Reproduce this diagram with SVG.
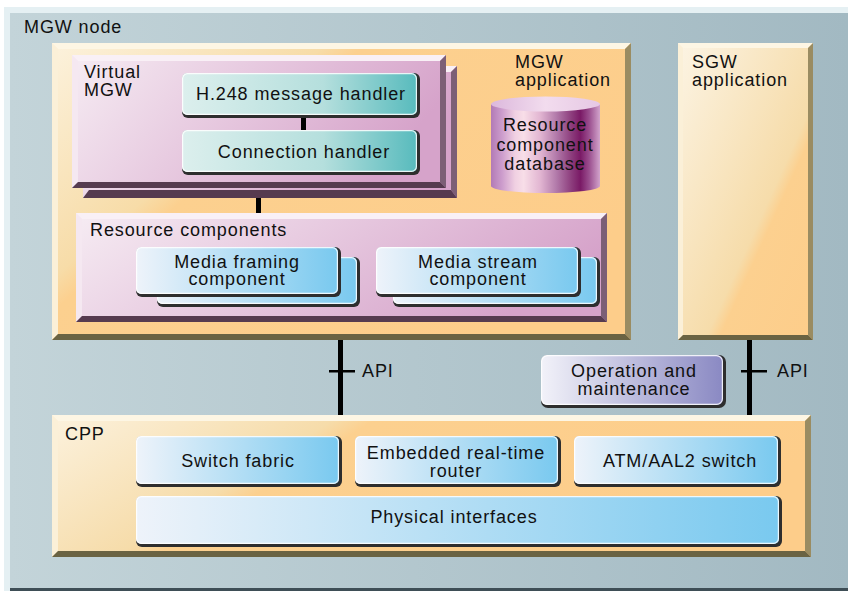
<svg xmlns="http://www.w3.org/2000/svg" width="848" height="591" viewBox="0 0 848 591">
<defs>
<linearGradient id="gBg" x1="0" y1="0" x2="1" y2="0"><stop offset="0" stop-color="#c3d4d9"/><stop offset="1" stop-color="#a2b9c2"/></linearGradient>
<linearGradient id="gOr" x1="0" y1="0" x2="1" y2="0.6"><stop offset="0" stop-color="#fcf2dd"/><stop offset="0.35" stop-color="#f7dca8"/><stop offset="0.4" stop-color="#fcd08f"/><stop offset="1" stop-color="#fdcd8a"/></linearGradient>
<linearGradient id="gOr2" x1="0" y1="0" x2="1" y2="1"><stop offset="0" stop-color="#fcf4e4"/><stop offset="0.6" stop-color="#f6dcaa"/><stop offset="0.65" stop-color="#fcd08f"/><stop offset="1" stop-color="#fdcd8a"/></linearGradient>
<linearGradient id="gOr3" x1="0" y1="0" x2="1" y2="0.3"><stop offset="0" stop-color="#fcf2de"/><stop offset="0.35" stop-color="#f6dcaa"/><stop offset="0.4" stop-color="#fcd08f"/><stop offset="1" stop-color="#fdcd8a"/></linearGradient>
<linearGradient id="gPk" x1="0" y1="0" x2="1" y2="0.3"><stop offset="0" stop-color="#f6ecf3"/><stop offset="1" stop-color="#d6a3ca"/></linearGradient>
<linearGradient id="gTeal" x1="0" y1="0" x2="1" y2="0"><stop offset="0" stop-color="#dcefed"/><stop offset="0.6" stop-color="#b5dfdd"/><stop offset="1" stop-color="#58bbbd"/></linearGradient>
<linearGradient id="gBlue" x1="0" y1="0" x2="1" y2="0"><stop offset="0" stop-color="#eef3fa"/><stop offset="1" stop-color="#79c9ef"/></linearGradient>
<linearGradient id="gOm" x1="0" y1="0" x2="1" y2="0"><stop offset="0" stop-color="#f2f2f9"/><stop offset="1" stop-color="#8a89c3"/></linearGradient>
<linearGradient id="gCyl" x1="0" y1="0" x2="1" y2="0"><stop offset="0" stop-color="#b27ab6"/><stop offset="0.1" stop-color="#cc9ccc"/><stop offset="0.22" stop-color="#f0d0e2"/><stop offset="0.3" stop-color="#f8dee8"/><stop offset="0.45" stop-color="#e2b6d2"/><stop offset="0.6" stop-color="#b27aaa"/><stop offset="0.74" stop-color="#8c3c7c"/><stop offset="0.82" stop-color="#7a1a66"/><stop offset="0.9" stop-color="#9a4e8e"/><stop offset="1" stop-color="#d2a4cc"/></linearGradient>
<linearGradient id="gCylTop" x1="0" y1="0" x2="1" y2="0"><stop offset="0" stop-color="#dcb8dc"/><stop offset="0.5" stop-color="#f2dcee"/><stop offset="1" stop-color="#e6c8e4"/></linearGradient>
</defs>
<style>
text{font-family:"Liberation Sans",Arial,Helvetica,sans-serif;font-size:18px;fill:#111;letter-spacing:0.9px}
.c{text-anchor:middle}
.sh{fill:#2e2e2e}
.hl{fill:none;stroke:#ffffff;stroke-opacity:0.85;stroke-width:1.2}
.conn{fill:#000}
.olt{fill:#fdf6e4}.oll{fill:#fbf0d8}.ord{fill:#9a8c62}.obt{fill:#6a6343}
.plt{fill:#f9f0f6}.pll{fill:#f5e8f1}.prd{fill:#7c5f76}.pbt{fill:#563b4f}
</style>
<rect width="848" height="591" fill="#ffffff"/>
<g id="mgw-node">
<rect x="4" y="7" width="844" height="584" fill="#e5f0f3"/>
<rect x="10" y="13" width="838" height="578" fill="url(#gBg)"/>
<rect x="10" y="588" width="838" height="3" fill="#3e4e56"/>
<text x="24" y="33">MGW node</text>
</g>
<g id="mgw-application">
<rect x="52" y="43" width="579" height="297" fill="url(#gOr)"/>
<polygon class="olt" points="52,43 631,43 625,49 58,49"/>
<polygon class="oll" points="52,43 58,49 58,334 52,340"/>
<polygon class="ord" points="631,43 631,340 625,334 625,49"/>
<polygon class="obt" points="52,340 631,340 625,334 58,334"/>
<text x="515" y="68">MGW</text>
<text x="515" y="86">application</text>
</g>
<g id="resource-component-database">
<rect x="491" y="104" width="109" height="82" fill="url(#gCyl)"/>
<ellipse cx="545.5" cy="186" rx="54.5" ry="7" fill="url(#gCyl)"/>
<ellipse cx="545.5" cy="104" rx="54.5" ry="7.5" fill="url(#gCylTop)"/>
<text class="c" x="545" y="131">Resource</text>
<text class="c" x="545" y="151">component</text>
<text class="c" x="545" y="170">database</text>
</g>
<g id="virtual-mgw">
<rect x="83" y="66" width="374" height="132" fill="url(#gPk)"/>
<polygon class="plt" points="83,66 457,66 451,72 89,72"/>
<polygon class="prd" points="457,66 457,198 451,190 451,72"/>
<polygon class="pbt" points="83,198 457,198 451,190 89,190"/>
<rect x="72" y="55" width="374" height="133" fill="url(#gPk)"/>
<polygon class="plt" points="72,55 446,55 440,61 78,61"/>
<polygon class="pll" points="72,55 78,61 78,182 72,188"/>
<polygon class="prd" points="446,55 446,188 440,182 440,61"/>
<polygon class="pbt" points="72,188 446,188 440,182 78,182"/>
<text x="84" y="78">Virtual</text>
<text x="84" y="96">MGW</text>
</g>
<g id="h248-message-handler">
<rect class="sh" x="182" y="73" width="238" height="45" rx="6"/>
<rect x="182" y="73" width="235" height="42" rx="5" fill="url(#gTeal)"/>
<rect class="hl" x="182.6" y="73.6" width="233.8" height="40.8" rx="5"/>
<text class="c" x="301" y="100">H.248 message handler</text>
</g>
<g id="connection-handler">
<rect class="sh" x="182" y="130" width="238" height="45" rx="6"/>
<rect x="182" y="130" width="235" height="42" rx="5" fill="url(#gTeal)"/>
<rect class="hl" x="182.6" y="130.6" width="233.8" height="40.8" rx="5"/>
<text class="c" x="304" y="158">Connection handler</text>
</g>
<g id="resource-components">
<rect x="76" y="213" width="531" height="109" fill="url(#gPk)"/>
<polygon class="plt" points="76,213 607,213 601,219 82,219"/>
<polygon class="pll" points="76,213 82,219 82,316 76,322"/>
<polygon class="prd" points="607,213 607,322 601,316 601,219"/>
<polygon class="pbt" points="76,322 607,322 601,316 82,316"/>
<text x="90" y="236">Resource components</text>
</g>
<g id="media-framing-component">
<rect class="sh" x="157" y="257" width="203" height="50" rx="6"/>
<rect x="157" y="257" width="200" height="47" rx="5" fill="url(#gBlue)"/>
<rect class="hl" x="157.6" y="257.6" width="198.8" height="45.8" rx="5"/>
<rect class="sh" x="136" y="247" width="205" height="50" rx="6"/>
<rect x="136" y="247" width="202" height="47" rx="5" fill="url(#gBlue)"/>
<rect class="hl" x="136.6" y="247.6" width="200.8" height="45.8" rx="5"/>
<text class="c" x="237" y="268">Media framing</text>
<text class="c" x="237" y="285">component</text>
</g>
<g id="media-stream-component">
<rect class="sh" x="393" y="257" width="207" height="50" rx="6"/>
<rect x="393" y="257" width="204" height="47" rx="5" fill="url(#gBlue)"/>
<rect class="hl" x="393.6" y="257.6" width="202.8" height="45.8" rx="5"/>
<rect class="sh" x="376" y="247" width="205" height="50" rx="6"/>
<rect x="376" y="247" width="202" height="47" rx="5" fill="url(#gBlue)"/>
<rect class="hl" x="376.6" y="247.6" width="200.8" height="45.8" rx="5"/>
<text class="c" x="478" y="268">Media stream</text>
<text class="c" x="478" y="285">component</text>
</g>
<g id="sgw-application">
<rect x="678" y="43" width="135" height="297" fill="url(#gOr2)"/>
<polygon class="olt" points="678,43 813,43 808,48 683,48"/>
<polygon class="oll" points="678,43 683,48 683,335 678,340"/>
<polygon class="ord" points="813,43 813,340 808,335 808,48"/>
<polygon class="obt" points="678,340 813,340 808,335 683,335"/>
<text x="692" y="68">SGW</text>
<text x="692" y="86">application</text>
</g>
<g id="operation-and-maintenance">
<rect class="sh" x="541" y="355" width="185" height="53" rx="7"/>
<rect x="541" y="355" width="182" height="50" rx="6" fill="url(#gOm)"/>
<rect class="hl" x="541.6" y="355.6" width="180.8" height="48.8" rx="6"/>
<text class="c" x="634" y="377">Operation and</text>
<text class="c" x="634" y="395">maintenance</text>
</g>
<g id="cpp">
<rect x="52" y="415" width="759" height="142" fill="url(#gOr3)"/>
<polygon class="olt" points="52,415 811,415 805,421 58,421"/>
<polygon class="oll" points="52,415 58,421 58,551 52,557"/>
<polygon class="ord" points="811,415 811,557 805,551 805,421"/>
<polygon class="obt" points="52,557 811,557 805,551 58,551"/>
<text x="65" y="440">CPP</text>
</g>
<g id="switch-fabric">
<rect class="sh" x="136" y="436" width="206" height="51" rx="6"/>
<rect x="136" y="436" width="203" height="48" rx="5" fill="url(#gBlue)"/>
<rect class="hl" x="136.6" y="436.6" width="201.8" height="46.8" rx="5"/>
<text class="c" x="238" y="467">Switch fabric</text>
</g>
<g id="embedded-real-time-router">
<rect class="sh" x="355" y="436" width="206" height="51" rx="6"/>
<rect x="355" y="436" width="203" height="48" rx="5" fill="url(#gBlue)"/>
<rect class="hl" x="355.6" y="436.6" width="201.8" height="46.8" rx="5"/>
<text class="c" x="456" y="459">Embedded real-time</text>
<text class="c" x="456" y="477">router</text>
</g>
<g id="atm-aal2-switch">
<rect class="sh" x="574" y="436" width="207" height="51" rx="6"/>
<rect x="574" y="436" width="204" height="48" rx="5" fill="url(#gBlue)"/>
<rect class="hl" x="574.6" y="436.6" width="202.8" height="46.8" rx="5"/>
<text class="c" x="680" y="467">ATM/AAL2 switch</text>
</g>
<g id="physical-interfaces">
<rect class="sh" x="136" y="496" width="646" height="51" rx="6"/>
<rect x="136" y="496" width="643" height="48" rx="5" fill="url(#gBlue)"/>
<rect class="hl" x="136.6" y="496.6" width="641.8" height="46.8" rx="5"/>
<text class="c" x="454" y="523">Physical interfaces</text>
</g>
<g id="connectors">
<rect class="conn" x="301" y="118" width="5" height="12"/>
<rect class="conn" x="256" y="198" width="5" height="15"/>
<rect class="conn" x="338" y="340" width="5" height="75"/>
<rect class="conn" x="329" y="370" width="26" height="2.5"/>
<rect class="conn" x="747" y="340" width="5" height="75"/>
<rect class="conn" x="741" y="370" width="26" height="2.5"/>
<text x="362" y="377">API</text>
<text x="777" y="377">API</text>
</g>
</svg>
